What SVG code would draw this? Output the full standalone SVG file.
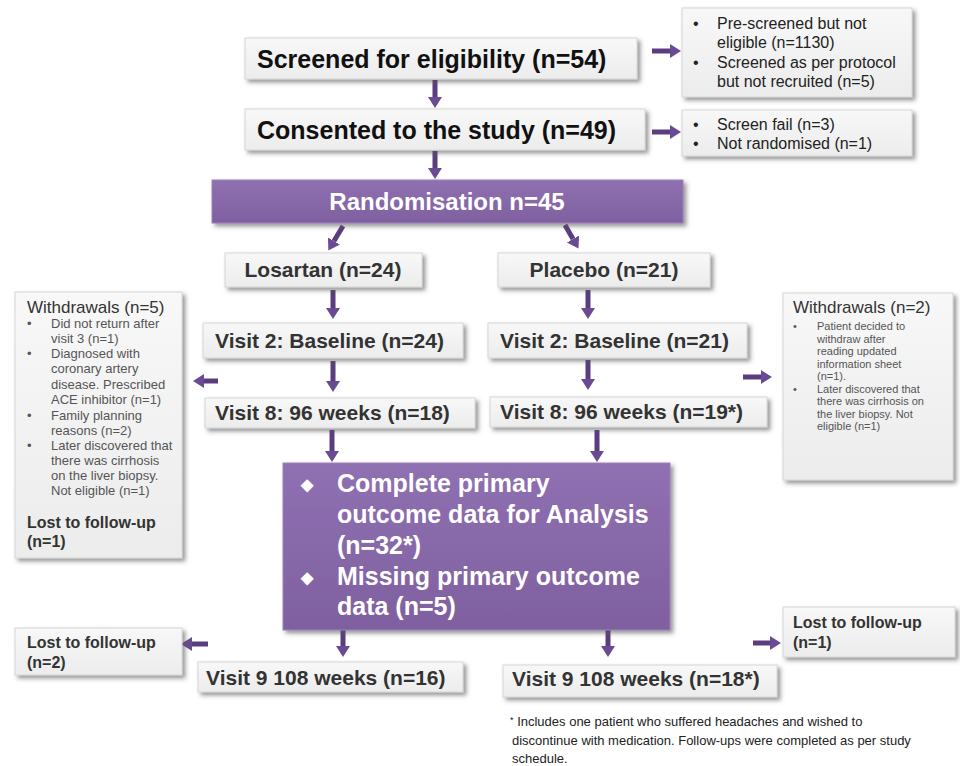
<svg xmlns="http://www.w3.org/2000/svg" width="960" height="766" viewBox="0 0 960 766">
<style>
text{font-family:"Liberation Sans",Arial,sans-serif}
.gbox{fill:url(#gg);stroke:#d6d6d6;stroke-width:1;filter:url(#sh)}
.pbox{fill:url(#pg);stroke:#9b82bb;stroke-width:1;filter:url(#sh)}
.big{font-size:25px;font-weight:bold;fill:#111}
.mid{font-size:21px;font-weight:bold;fill:#333}
.side{font-size:16px;fill:#222}
.wt{font-size:17px;fill:#333}
.sm{font-size:13px;fill:#555}
.sr{font-size:11px;fill:#555}
.lost{font-size:16px;font-weight:bold;fill:#333}
.wh{font-weight:bold;fill:#fff}
.foot{font-size:13px;fill:#222}
.arr{stroke:#5a3d7f;stroke-width:5;fill:none;marker-end:url(#ah)}
</style>
<defs>
<linearGradient id="gg" x1="0" y1="0" x2="0" y2="1"><stop offset="0" stop-color="#f8f8f8"/><stop offset="1" stop-color="#ececec"/></linearGradient>
<linearGradient id="pg" x1="0" y1="0" x2="0" y2="1"><stop offset="0" stop-color="#8f70b2"/><stop offset="1" stop-color="#7f609f"/></linearGradient>
<filter id="sh" x="-10%" y="-10%" width="130%" height="140%"><feDropShadow dx="3" dy="3" stdDeviation="2" flood-color="#555" flood-opacity="0.6"/></filter>
<marker id="ah" markerUnits="userSpaceOnUse" markerWidth="12" markerHeight="16" refX="0" refY="8" orient="auto"><path d="M0,1 L11,8 L0,15 z" fill="#6a4a92"/></marker>
</defs>
<g id="connectors">
<line class="arr" x1="435" y1="80" x2="435" y2="97"/>
<line class="arr" x1="652" y1="51" x2="670" y2="51"/>
<line class="arr" x1="652" y1="132" x2="670" y2="132"/>
<line class="arr" x1="435" y1="151" x2="435" y2="168"/>
<line class="arr" x1="343" y1="226" x2="334" y2="241"/>
<line class="arr" x1="565" y1="225" x2="573" y2="239"/>
<line class="arr" x1="333" y1="290" x2="333" y2="308"/>
<line class="arr" x1="588" y1="290" x2="588" y2="308"/>
<line class="arr" x1="333" y1="361" x2="333" y2="381"/>
<line class="arr" x1="588" y1="360" x2="588" y2="379"/>
<line class="arr" x1="218" y1="381" x2="204" y2="381"/>
<line class="arr" x1="743" y1="377" x2="761" y2="377"/>
<line class="arr" x1="332" y1="430" x2="332" y2="451"/>
<line class="arr" x1="597" y1="430" x2="597" y2="451"/>
<line class="arr" x1="343" y1="630" x2="343" y2="646"/>
<line class="arr" x1="608" y1="630" x2="608" y2="646"/>
<line class="arr" x1="208" y1="644" x2="192" y2="644"/>
<line class="arr" x1="753" y1="643" x2="770" y2="643"/>
</g>
<g id="screened"><rect class="gbox" x="245" y="38" width="392" height="41"/><text class="big" x="257" y="68">Screened for eligibility (n=54)</text></g>
<g id="consented"><rect class="gbox" x="245" y="109" width="400" height="41"/><text class="big" x="257" y="139">Consented to the study (n=49)</text></g>
<g id="excl1"><rect class="gbox" x="682" y="8" width="230" height="89"/>
<text class="side"><tspan x="693" y="29">•</tspan><tspan x="717" y="29">Pre-screened but not</tspan><tspan x="717" y="48">eligible (n=1130)</tspan><tspan x="693" y="68">•</tspan><tspan x="717" y="68">Screened as per protocol</tspan><tspan x="717" y="87">but not recruited (n=5)</tspan></text></g>
<g id="excl2"><rect class="gbox" x="682" y="110" width="230" height="46"/>
<text class="side"><tspan x="693" y="130">•</tspan><tspan x="717" y="130">Screen fail (n=3)</tspan><tspan x="693" y="149">•</tspan><tspan x="717" y="149">Not randomised (n=1)</tspan></text></g>
<g id="randomisation"><rect class="pbox" x="212" y="180" width="471" height="43"/><text class="wh" x="447" y="210" font-size="24" text-anchor="middle">Randomisation n=45</text></g>
<g id="losartan"><rect class="gbox" x="225" y="253" width="197" height="34"/><text class="mid" x="323" y="277" text-anchor="middle">Losartan (n=24)</text></g>
<g id="placebo"><rect class="gbox" x="498" y="253" width="212" height="34"/><text class="mid" x="604" y="277" text-anchor="middle">Placebo (n=21)</text></g>
<g id="v2l"><rect class="gbox" x="203" y="323" width="260" height="35"/><text class="mid" x="215" y="348">Visit 2: Baseline (n=24)</text></g>
<g id="v2r"><rect class="gbox" x="488" y="323" width="259" height="35"/><text class="mid" x="500" y="348">Visit 2: Baseline (n=21)</text></g>
<g id="v8l"><rect class="gbox" x="205" y="398" width="270" height="30"/><text class="mid" x="215" y="420">Visit 8: 96 weeks (n=18)</text></g>
<g id="v8r"><rect class="gbox" x="490" y="397" width="277" height="30"/><text class="mid" x="500" y="419">Visit 8: 96 weeks (n=19*)</text></g>
<g id="wl"><rect class="gbox" x="15" y="292" width="167" height="266"/>
<text class="wt" x="27" y="313">Withdrawals (n=5)</text>
<text class="sm"><tspan x="27" y="328">•</tspan><tspan x="51" y="328">Did not return after</tspan><tspan x="51" y="343">visit 3 (n=1)</tspan><tspan x="27" y="358">•</tspan><tspan x="51" y="358">Diagnosed with</tspan><tspan x="51" y="373">coronary artery</tspan><tspan x="51" y="389">disease. Prescribed</tspan><tspan x="51" y="404">ACE inhibitor (n=1)</tspan><tspan x="27" y="420">•</tspan><tspan x="51" y="420">Family planning</tspan><tspan x="51" y="435">reasons (n=2)</tspan><tspan x="27" y="450">•</tspan><tspan x="51" y="450">Later discovered that</tspan><tspan x="51" y="465">there was cirrhosis</tspan><tspan x="51" y="480">on the liver biopsy.</tspan><tspan x="51" y="495">Not eligible (n=1)</tspan></text>
<text class="lost"><tspan x="27" y="528">Lost to follow-up</tspan><tspan x="27" y="547">(n=1)</tspan></text></g>
<g id="wr"><rect class="gbox" x="783" y="293" width="170" height="187"/>
<text class="wt" x="793" y="313">Withdrawals (n=2)</text>
<text class="sr"><tspan x="793" y="330">•</tspan><tspan x="817" y="330">Patient decided to</tspan><tspan x="817" y="342.5">withdraw after</tspan><tspan x="817" y="355">reading updated</tspan><tspan x="817" y="367.5">information sheet</tspan><tspan x="817" y="380">(n=1).</tspan><tspan x="793" y="392.5">•</tspan><tspan x="817" y="392.5">Later discovered that</tspan><tspan x="817" y="405">there was cirrhosis on</tspan><tspan x="817" y="417.5">the liver biopsy. Not</tspan><tspan x="817" y="430">eligible (n=1)</tspan></text></g>
<g id="analysis"><rect class="pbox" x="283" y="463" width="387" height="167"/>
<text class="wh" font-size="25"><tspan x="301" y="490" font-size="16">◆</tspan><tspan x="337" y="492">Complete primary</tspan><tspan x="337" y="523">outcome data for Analysis</tspan><tspan x="337" y="554">(n=32*)</tspan><tspan x="301" y="583" font-size="16">◆</tspan><tspan x="337" y="585">Missing primary outcome</tspan><tspan x="337" y="615">data (n=5)</tspan></text></g>
<g id="lostl"><rect class="gbox" x="15" y="628" width="167" height="47"/><text class="lost"><tspan x="27" y="648">Lost to follow-up</tspan><tspan x="27" y="668">(n=2)</tspan></text></g>
<g id="v9l"><rect class="gbox" x="198" y="662" width="265" height="30"/><text class="mid" x="206" y="685">Visit 9 108 weeks (n=16)</text></g>
<g id="v9r"><rect class="gbox" x="503" y="665" width="274" height="32"/><text class="mid" x="512" y="686">Visit 9 108 weeks (n=18*)</text></g>
<g id="lostr"><rect class="gbox" x="783" y="607" width="172" height="50"/><text class="lost"><tspan x="793" y="628">Lost to follow-up</tspan><tspan x="793" y="648">(n=1)</tspan></text></g>
<g id="footnote"><text class="foot"><tspan x="510" y="726"><tspan font-size="9" dy="-3">*</tspan><tspan dy="3"> Includes one patient who suffered headaches and wished to</tspan></tspan><tspan x="512" y="745">discontinue with medication. Follow-ups were completed as per study</tspan><tspan x="512" y="763">schedule.</tspan></text></g>
</svg>
